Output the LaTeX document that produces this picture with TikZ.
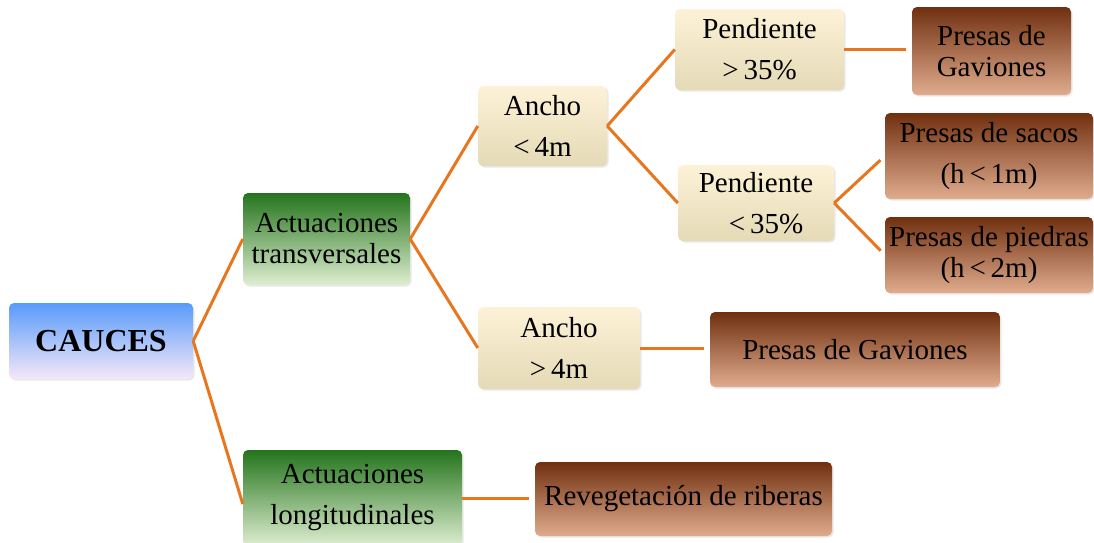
\documentclass[tikz,border=0pt]{standalone}
\usepackage{fontspec}
\setmainfont{Liberation Serif}
\usetikzlibrary{shadows}
\definecolor{conn}{RGB}{232,118,30}
\definecolor{bluetop}{RGB}{88,155,250}
\definecolor{bluemid}{RGB}{160,195,240}
\definecolor{bluebot}{RGB}{246,232,248}
\definecolor{greentop}{RGB}{36,116,28}
\definecolor{greenmid}{RGB}{140,185,110}
\definecolor{greenbot}{RGB}{222,238,208}
\definecolor{creamtop}{RGB}{253,242,215}
\definecolor{creambot}{RGB}{228,218,182}
\definecolor{browntop}{RGB}{112,48,16}
\definecolor{brownmid}{RGB}{178,104,58}
\definecolor{brownbot}{RGB}{224,172,142}
\begin{document}
\begin{tikzpicture}[x=1pt,y=-1pt,
  box/.style={rectangle, rounded corners=5pt, inner sep=0pt, align=center,
    font=\fontsize{29}{31}\selectfont,
    drop shadow={opacity=0.18,shadow xshift=1.5pt,shadow yshift=-1.5pt}},
  bluebox/.style={box, top color=bluetop, middle color=bluemid, bottom color=bluebot},
  greenbox/.style={box, top color=greentop, middle color=greenmid, bottom color=greenbot},
  creambox/.style={box, top color=creamtop, bottom color=creambot},
  brownbox/.style={box, top color=browntop, middle color=brownmid, bottom color=brownbot},
  link/.style={draw=conn, line width=3pt},
  linkgap/.style={link, shorten >=6pt}
]
\useasboundingbox (0,0) rectangle (1094,542);

\node[bluebox, minimum width=184pt, minimum height=76pt] (cauces) at (101,341)
  {\fontsize{32}{34}\selectfont\bfseries CAUCES};

\node[greenbox, minimum width=167pt, minimum height=92pt] (at) at (326.5,239)
  {Actuaciones\\transversales};
\node[greenbox, minimum width=219pt, minimum height=96pt] (al) at (352.5,498)
  {Actuaciones\\[10pt]longitudinales};

\node[creambox, minimum width=129pt, minimum height=80pt] (anc1) at (542.5,126)
  {Ancho\\[10pt]<\,4m};
\node[creambox, minimum width=162pt, minimum height=82pt] (anc2) at (559,348)
  {Ancho\\[10pt]>\,4m};

\node[creambox, minimum width=169pt, minimum height=81pt] (pen1) at (759.5,49.5)
  {Pendiente\\[10pt]>\,35\%};
\node[creambox, minimum width=156pt, minimum height=76pt] (pen2) at (756,203)
  {Pendiente\\[10pt]\hspace*{20pt}<\,35\%};

\node[brownbox, minimum width=159pt, minimum height=88pt] (pg1) at (991.5,51)
  {Presas de\\Gaviones};
\node[brownbox, minimum width=208pt, minimum height=86pt] (ps) at (989,156)
  {Presas de sacos\\[10pt](h\,<\,1m)};
\node[brownbox, minimum width=208pt, minimum height=76pt] (pp) at (989,255)
  {Presas de piedras\\(h\,<\,2m)};
\node[brownbox, minimum width=290pt, minimum height=75pt] (pg2) at (855,349.5)
  {Presas de Gaviones};
\node[brownbox, minimum width=297pt, minimum height=74pt] (rev) at (683.5,499)
  {Revegetación de riberas};

\draw[link] (cauces.east) -- (at.west);
\draw[link] (cauces.east) -- ([yshift=-6pt]al.west);
\draw[link] (at.east) -- (anc1.west);
\draw[link] (at.east) -- (anc2.west);
\draw[link] (anc1.east) -- (pen1.west);
\draw[link] (anc1.east) -- (pen2.west);
\draw[linkgap] (pen1.east) -- (pg1.west |- pen1.east);
\draw[linkgap] (pen2.east) -- (ps.west);
\draw[linkgap] (pen2.east) -- (pp.west);
\draw[linkgap] (anc2.east) -- (pg2.west |- anc2.east);
\draw[linkgap] (al.east) -- (rev.west |- al.east);
\end{tikzpicture}
\end{document}
